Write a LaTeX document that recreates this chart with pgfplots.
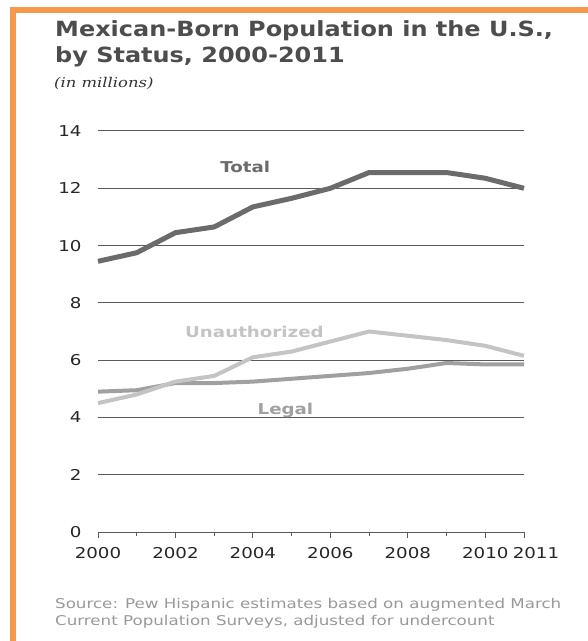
\documentclass[border=0pt]{standalone}
\usepackage{fontspec}
\setmainfont{DejaVu Sans}
\newfontfamily\serifit{DejaVu Serif}
\usepackage{graphicx}
\usepackage{pgfplots}
\pgfplotsset{compat=1.18}
\definecolor{frameorange}{HTML}{F7994A}
\definecolor{titlegray}{HTML}{4D4D4D}
\definecolor{totalc}{HTML}{6B6B6B}
\definecolor{unauthc}{HTML}{C4C4C4}
\definecolor{legalc}{HTML}{A0A0A0}
\definecolor{gridc}{HTML}{5A5A5A}
\definecolor{srcc}{HTML}{999999}
\newcommand{\hs}[1]{\scalebox{1.22}[1]{#1}}
\begin{document}
\begin{tikzpicture}
\useasboundingbox[fill=white] (0,0) rectangle (588bp,641bp);
\fill[frameorange] (10bp,0) rectangle (16bp,634bp);
\fill[frameorange] (10bp,628bp) rectangle (588bp,634bp);
\node[anchor=base west, inner sep=0pt, text=titlegray, font=\bfseries\fontsize{21}{24}\selectfont] at (55bp,604bp) {\scalebox{1.145}[1]{Mexican-Born Population in the U.S.,}};
\node[anchor=base west, inner sep=0pt, text=titlegray, font=\bfseries\fontsize{21}{24}\selectfont] at (55bp,578bp) {\scalebox{1.145}[1]{by Status, 2000-2011}};
\node[anchor=base west, inner sep=0pt, text=black!80, font=\serifit\itshape\fontsize{13.5}{15}\selectfont] at (54bp,553bp) {\hs{(in millions)}};
\node[anchor=base west, inner sep=0pt, text=srcc, font=\fontsize{13.5}{15}\selectfont] at (55bp,33bp) {\scalebox{1.24}[1]{Source: Pew Hispanic estimates based on augmented March}};
\node[anchor=base west, inner sep=0pt, text=srcc, font=\fontsize{13.5}{15}\selectfont] at (55bp,16bp) {\scalebox{1.24}[1]{Current Population Surveys, adjusted for undercount}};
\begin{axis}[
  at={(98bp,109bp)}, anchor=origin,
  scale only axis, width=426bp, height=401bp,
  xmin=2000, xmax=2011, ymin=0, ymax=14,
  axis x line*=bottom, axis y line*=left,
  y axis line style={draw=none},
  x axis line style={gridc, line width=1pt},
  xtick={2000,2002,2004,2006,2008,2010,2011},
  minor xtick={2001,2003,2005,2007,2009},
  xticklabels={\hs{2000},\hs{2002},\hs{2004},\hs{2006},\hs{2008},\hs{2010},\hspace*{24bp}\hs{2011}},
  ytick={0,2,...,14},
  yticklabel={\hs{\pgfmathprintnumber{\tick}}},
  ymajorgrids, major grid style={gridc, line width=1pt},
  x tick style={gridc, line width=1pt},
  y tick style={draw=none},
  major tick length=6bp, minor tick length=4bp,
  tick align=outside,
  xticklabel style={font=\fontsize{15}{16}\selectfont, text=black!85, yshift=-6bp},
  yticklabel style={font=\fontsize{15}{16}\selectfont, text=black!85, xshift=-7bp},
  /pgf/number format/assume math mode=true,
  clip=false,
]
\addplot[legalc, line width=4bp, line join=round] coordinates {
(2000,4.9) (2001,4.95) (2002,5.2) (2003,5.2) (2004,5.25) (2005,5.35) (2006,5.45) (2007,5.55) (2008,5.7) (2009,5.9) (2010,5.85) (2011,5.85)};
\addplot[unauthc, line width=4bp, line join=round] coordinates {
(2000,4.5) (2001,4.8) (2002,5.25) (2003,5.45) (2004,6.1) (2005,6.3) (2006,6.65) (2007,7.0) (2008,6.85) (2009,6.7) (2010,6.5) (2011,6.15)};
\addplot[totalc, line width=5bp, line join=round] coordinates {
(2000,9.45) (2001,9.75) (2002,10.45) (2003,10.65) (2004,11.35) (2005,11.65) (2006,12.0) (2007,12.55) (2008,12.55) (2009,12.55) (2010,12.35) (2011,12.0)};
\node[text=totalc, font=\bfseries\fontsize{15}{16}\selectfont] at (axis cs:2003.8,12.74) {\hs{Total}};
\node[text=unauthc, font=\bfseries\fontsize{15}{16}\selectfont] at (axis cs:2004.04,7.0) {\hs{Unauthorized}};
\node[text=legalc, font=\bfseries\fontsize{15}{16}\selectfont] at (axis cs:2004.84,4.26) {\hs{Legal}};
\end{axis}
\end{tikzpicture}
\end{document}
